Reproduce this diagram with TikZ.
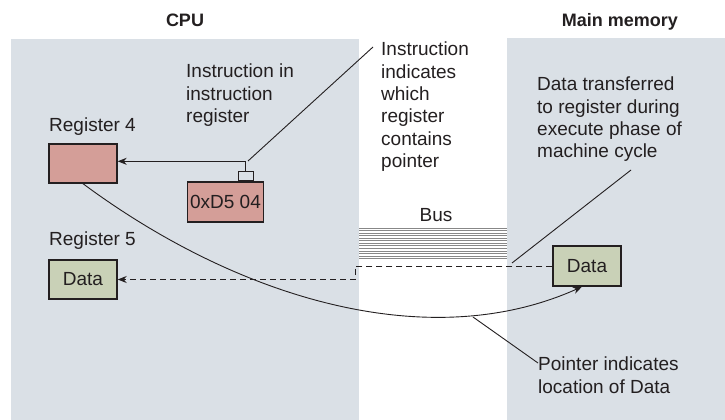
\documentclass[tikz,border=0pt]{standalone}
\usepackage{fontspec}
\setmainfont{Liberation Sans}
\usetikzlibrary{positioning}
\usetikzlibrary{arrows.meta}

\definecolor{panelbg}{RGB}{218,224,230}
\definecolor{regpink}{RGB}{212,158,152}
\definecolor{datagreen}{RGB}{201,209,183}
\definecolor{inkgray}{RGB}{35,31,32}
\definecolor{busgray}{RGB}{135,135,135}

\tikzset{
    lbl/.style={anchor=north west, align=left, inner sep=0pt, text=inkgray,
        font=\fontsize{19}{22.3}\selectfont},
    title/.style={anchor=base, inner sep=0pt, text=inkgray,
        font=\fontsize{18}{22}\selectfont\bfseries},
    regbox/.style={draw=inkgray, line width=1.4pt, minimum width=68pt,
        minimum height=39pt, inner sep=0pt, text=inkgray,
        font=\fontsize{19}{22}\selectfont},
    leader/.style={inkgray, line width=0.9pt},
    tip/.style={-{Stealth[length=9pt,width=7pt]}}
}

\begin{document}
\begin{tikzpicture}[x=1pt, y=-1pt]
    \useasboundingbox (0,0) rectangle (725,420);

    % Panels
    \fill[panelbg] (11,39) rectangle (359,420);
    \fill[panelbg] (507,38) rectangle (725,420);
    \node[title] (cputitle) at (185,27) {CPU};
    \node[title] (memtitle) at (620,27) {Main memory};

    % Bus
    \foreach \k in {0,...,12} {
        \draw[busgray, line width=0.8pt] (359,228+2.55*\k) -- (507,228+2.55*\k);
    }
    \node[anchor=base, inner sep=0pt, text=inkgray,
        font=\fontsize{19}{22}\selectfont] (bus) at (436,221) {Bus};

    % Registers and memory
    \node[lbl] (r4lbl) at (49,118) {Register 4};
    \node[regbox, fill=regpink] (reg4) at (83,163.5) {};
    \node[lbl] (r5lbl) at (49,232) {Register 5};
    \node[regbox, fill=datagreen] (reg5) at (83,279.5) {Data};
    \node[regbox, fill=datagreen, minimum height=40pt] (mdata) at (587,266) {Data};

    % Instruction register
    \node[regbox, fill=regpink, minimum width=76pt, minimum height=40pt] (instr) at (225.5,202) {0xD5 04};
    \node[draw=inkgray, line width=1pt, minimum width=15pt, minimum height=9pt,
        inner sep=0pt, anchor=south] (tab) at ([xshift=20pt]instr.north) {};
    \coordinate (bend) at ([yshift=10pt]tab.north);
    \draw[leader, tip] (tab.north) -- (bend) -- (bend -| reg4.east);

    % Data transfer
    \coordinate (jog) at (355,266);
    \draw[inkgray, line width=0.9pt, dash pattern=on 6pt off 4pt, tip]
        (mdata.west) -- (jog) -- (jog |- reg5.east) -- (reg5.east);

    % Pointer
    \draw[leader, tip] (reg4.south) .. controls (240,300) and (430,355) .. ([xshift=-5pt]mdata.south);

    % Notes
    \node[lbl] (note1) at (186,64) {Instruction in\\instruction\\register};
    \node[lbl] (note2) at (381,42) {Instruction\\indicates\\which\\register\\contains\\pointer};
    \node[lbl] (note3) at (537,77) {Data transferred\\to register during\\execute phase of\\machine cycle};
    \node[lbl] (note4) at (538,357) {Pointer indicates\\location of Data};
    \coordinate (c1) at (248,161);
    \coordinate (c2) at (512,263);
    \coordinate (c3) at (473,317);
    \draw[leader] (c1) -- ([xshift=-8pt,yshift=-5pt]note2.north west);
    \draw[leader] (c2) -- (631,170);
    \draw[leader] (c3) -- ([yshift=-6pt]note4.north west);
\end{tikzpicture}
\end{document}
